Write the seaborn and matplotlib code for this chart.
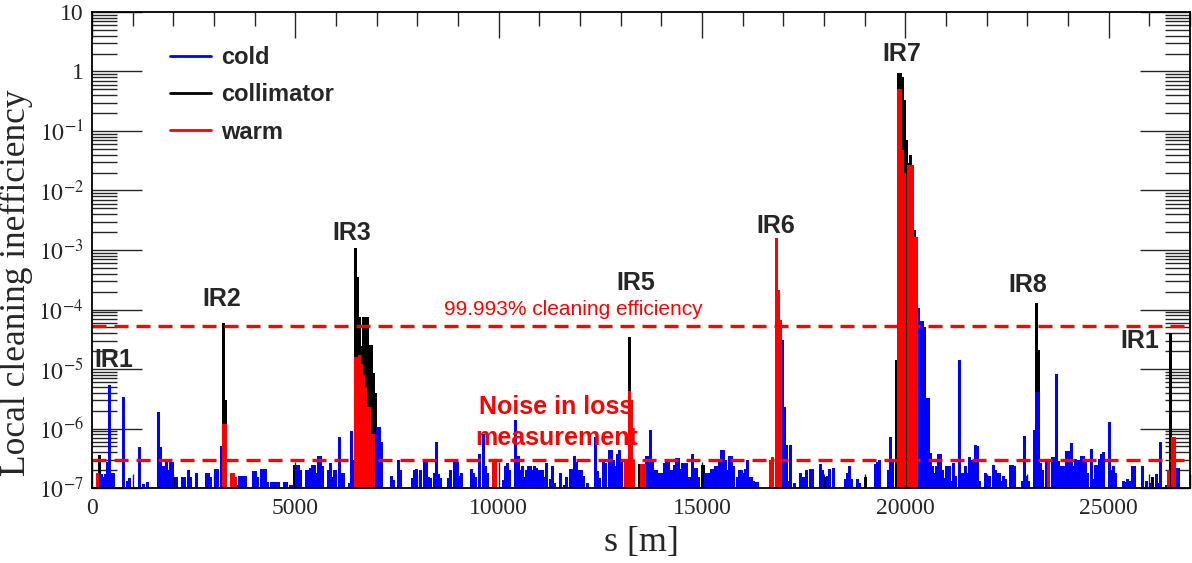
import numpy as np
import pandas as pd
import matplotlib
matplotlib.use("Agg")
import matplotlib.pyplot as plt
import seaborn as sns
from matplotlib.lines import Line2D
from matplotlib.ticker import LogLocator, NullFormatter, MultipleLocator

# ---------------- data (s [m], local cleaning inefficiency) ----------------
cold_s = [225, 275, 325, 375, 425, 475, 525, 775, 875, 925, 1175, 1275, 1375, 1625, 1675, 1725, 1775, 1825, 1875, 1925,
          1975, 2075, 2225, 2275, 2375, 2425, 2575, 2825, 2875, 2925, 3025, 3075, 3175, 3575, 3625, 3675, 3725, 3775,
          3975, 4025, 4075, 4175, 4225, 4275, 4325, 4425, 4475, 4525, 4575, 4725, 4775, 4875, 4925, 5025, 5075, 5125,
          5275, 5325, 5375, 5425, 5475, 5525, 5575, 5625, 5675, 5825, 5875, 5925, 5975, 6075, 6125, 6175, 6325, 6375,
          6425, 7025, 7075, 7125, 7375, 7425, 7525, 7575, 7875, 7925, 7975, 8075, 8175, 8225, 8275, 8325, 8425, 8475,
          8525, 8575, 8775, 8825, 8925, 8975, 9025, 9075, 9325, 9375, 9425, 9525, 9625, 9675, 9725, 10125, 10175,
          10225, 10275, 10425, 10475, 10525, 10575, 10625, 10675, 10725, 10775, 10825, 10875, 10925, 10975, 11025,
          11075, 11125, 11175, 11275, 11325, 11375, 11525, 11625, 11675, 11775, 11825, 11875, 11925, 11975, 12025,
          12075, 12175, 12375, 12425, 12475, 12575, 12625, 12725, 12775, 12825, 12875, 12925, 12975, 13025, 13625,
          13675, 13725, 13775, 13825, 13875, 13925, 13975, 14025, 14075, 14125, 14175, 14225, 14275, 14325, 14375,
          14425, 14475, 14525, 14575, 14625, 14675, 14725, 14775, 14825, 14875, 14925, 15075, 15125, 15175, 15225,
          15275, 15325, 15375, 15425, 15475, 15525, 15575, 15625, 15675, 15725, 15775, 15875, 15925, 15975, 16075,
          16125, 16175, 16225, 16275, 16325, 16375, 16975, 17025, 17075, 17125, 17175, 17275, 17425, 17475, 17525,
          17575, 17675, 17725, 17925, 17975, 18075, 18125, 18225, 18525, 18575, 18625, 18675, 18825, 18875, 19275,
          19325, 19375, 19575, 19625, 19675, 20325, 20375, 20425, 20475, 20525, 20575, 20625, 20675, 20725, 20775,
          20825, 20875, 20925, 20975, 21025, 21075, 21125, 21175, 21225, 21325, 21375, 21425, 21475, 21525, 21575,
          21625, 21675, 21725, 21775, 21825, 21975, 22075, 22175, 22225, 22275, 22325, 22375, 22425, 22475, 22575,
          22625, 22675, 22875, 22925, 22975, 23025, 23175, 23225, 23275, 23325, 23375, 23475, 23625, 23675, 23725,
          23775, 23825, 23875, 23925, 23975, 24025, 24075, 24125, 24175, 24225, 24275, 24325, 24375, 24425, 24475,
          24575, 24625, 24675, 24725, 24775, 24825, 24875, 25025, 25075, 25125, 25175, 25375, 25425, 25475, 25525,
          25575, 25625, 25825, 25925, 26025, 26175, 26225, 26275, 26425, 26475, 26675, 26725]
cold_v = [1.7e-7, 1.55e-7, 1.7e-7, 2.7e-7, 5.4e-6, 1.8e-7, 1.8e-7, 3.4e-6, 1.3e-7, 1.45e-7, 4.9e-7, 1.15e-7, 1.25e-7,
          1.9e-6, 4.9e-7, 2.3e-7, 2.3e-7, 2.7e-7, 2.0e-7, 2.7e-7, 2.7e-7, 1.55e-7, 1.55e-7, 1.55e-7, 2.0e-7, 1.55e-7,
          1.8e-7, 1.8e-7, 1.8e-7, 1.55e-7, 2.1e-7, 2.1e-7, 5.0e-7, 1.12e-7, 1.6e-7, 1.6e-7, 1.6e-7, 1.6e-7, 1.9e-7,
          1.9e-7, 1.55e-7, 2.1e-7, 2.1e-7, 2.1e-7, 1.25e-7, 1.25e-7, 1.25e-7, 1.25e-7, 1.25e-7, 1.25e-7, 1.25e-7,
          1.12e-7, 1.12e-7, 2.4e-7, 2.4e-7, 2.0e-7, 2.0e-7, 2.0e-7, 2.2e-7, 2.4e-7, 2.4e-7, 1.8e-7, 3.4e-7, 3.4e-7,
          2.3e-7, 2.0e-7, 2.6e-7, 1.55e-7, 2.0e-7, 7.3e-7, 1.8e-7, 1.8e-7, 1.2e-7, 9.0e-7, 3.0e-7, 1.05e-6, 1.05e-6,
          6.0e-7, 1.6e-7, 1.35e-7, 2.95e-7, 2.0e-7, 1.45e-7, 2.0e-7, 2.1e-7, 2.0e-7, 2.7e-7, 2.7e-7, 1.55e-7, 1.45e-7,
          1.8e-7, 6.0e-7, 1.75e-7, 1.45e-7, 1.45e-7, 2.0e-7, 2.95e-7, 2.7e-7, 1.6e-7, 1.8e-7, 2.1e-7, 1.8e-7, 1.55e-7,
          3.8e-7, 8.0e-7, 2.3e-7, 1.8e-7, 1.35e-7, 2.3e-7, 2.6e-7, 2.0e-7, 1.4e-6, 3.4e-7, 2.0e-7, 2.3e-7, 1.55e-7,
          2.0e-7, 2.3e-7, 2.3e-7, 2.0e-7, 2.3e-7, 2.2e-7, 2.0e-7, 2.0e-7, 2.0e-7, 1.55e-7, 2.6e-7, 1.4e-7, 2.3e-7,
          1.2e-7, 1.76e-7, 1.12e-7, 1.55e-7, 2.1e-7, 2.1e-7, 3.4e-7, 2.7e-7, 2.0e-7, 2.0e-7, 1.6e-7, 1.2e-7, 7.3e-7,
          1.9e-7, 1.45e-7, 2.7e-7, 2.6e-7, 4.4e-7, 4.4e-7, 2.95e-7, 2.3e-7, 3.8e-7, 4.4e-7, 2.7e-7, 3.4e-7, 3.5e-7,
          9.4e-7, 2.95e-7, 2.0e-7, 2.0e-7, 1.8e-7, 1.8e-7, 1.8e-7, 2.6e-7, 2.7e-7, 2.7e-7, 2.0e-7, 2.0e-7, 2.4e-7,
          3.2e-7, 3.2e-7, 2.1e-7, 2.6e-7, 2.6e-7, 2.6e-7, 1.55e-7, 1.55e-7, 3.8e-7, 2.2e-7, 2.2e-7, 1.55e-7, 1.8e-7,
          1.8e-7, 1.8e-7, 2.1e-7, 2.1e-7, 2.3e-7, 2.3e-7, 2.7e-7, 4.4e-7, 4.4e-7, 2.95e-7, 2.0e-7, 3.4e-7, 3.4e-7,
          2.3e-7, 1.55e-7, 2.0e-7, 2.0e-7, 2.1e-7, 2.95e-7, 1.55e-7, 1.55e-7, 1.3e-7, 1.25e-7, 1.25e-7, 3.1e-5,
          2.3e-6, 5.3e-7, 1.3e-7, 5.3e-7, 1.2e-7, 1.8e-7, 1.55e-7, 1.55e-7, 2.0e-7, 2.1e-7, 2.1e-7, 2.5e-7, 2.0e-7,
          1.6e-7, 2.1e-7, 2.2e-7, 1.4e-7, 1.8e-7, 2.3e-7, 1.4e-7, 1.4e-7, 1.23e-7, 2.5e-7, 2.7e-7, 2.95e-7, 2.0e-7,
          7.3e-7, 2.95e-7, 1.05e-4, 6.3e-5, 6.3e-5, 5.1e-5, 3.2e-6, 3.2e-6, 3.9e-7, 2.3e-7, 1.8e-7, 2.3e-7, 3.8e-7,
          3.8e-7, 2.0e-7, 1.5e-7, 2.3e-7, 2.3e-7, 1.3e-7, 2.6e-7, 1.6e-7, 1.4e-5, 1.8e-7, 1.8e-7, 2.3e-7, 1.8e-7,
          3.3e-7, 2.95e-7, 2.95e-7, 5.2e-7, 5.0e-7, 1.3e-7, 1.8e-7, 1.6e-7, 2.4e-7, 2.0e-7, 1.8e-7, 1.8e-7, 1.3e-7,
          1.6e-7, 1.4e-7, 2.4e-7, 2.4e-7, 2.3e-7, 1.3e-7, 7.5e-7, 1.6e-7, 1.3e-7, 9.4e-7, 4.1e-6, 4.1e-6, 2.6e-7,
          2.0e-7, 3.1e-7, 3.3e-7, 3.3e-7, 8.3e-6, 2.8e-7, 2.3e-7, 2.3e-7, 2.3e-7, 4.2e-7, 4.2e-7, 5.7e-7, 2.3e-7,
          3.1e-7, 3.0e-7, 3.0e-7, 3.5e-7, 3.5e-7, 3.1e-7, 1.8e-7, 4.6e-7, 1.4e-7, 2.4e-7, 2.4e-7, 3.1e-7, 3.8e-7,
          4.0e-7, 1.3e-6, 2.0e-7, 2.3e-7, 1.8e-7, 1.3e-7, 1.25e-7, 1.4e-7, 1.3e-7, 2.3e-7, 2.3e-7, 2.3e-7, 1.3e-7,
          1.2e-7, 1.75e-7, 1.2e-7, 6.0e-7, 1.12e-7, 1.1e-7, 2.2e-7, 2.2e-7]

coll_s = [175, 2025, 3225, 3275, 4975, 6475, 6525, 6575, 6625, 6675, 6725, 6775, 6825, 6875, 6925, 6975, 13225,
          13475, 15025, 16025, 18025, 19025, 19775, 19825, 19875, 19925, 19975, 20025, 20075, 20125, 20175, 20225,
          22025, 23225, 23275, 26075, 26525]
coll_v = [3.6e-7, 1.55e-7, 5.9e-5, 3.0e-6, 2.4e-7, 1.07e-3, 3.5e-4, 7.6e-5, 2.4e-5, 7.5e-5, 7.5e-5, 7.5e-5, 2.5e-5,
          2.5e-5, 8.5e-6, 4.0e-6, 3.4e-5, 2.5e-7, 2.4e-7, 1.76e-7, 1.55e-7, 1.55e-7, 1.4e-5, 0.95, 0.95, 0.81, 0.33,
          0.071, 0.029, 0.04, 0.015, 2.2e-3, 1.55e-7, 1.3e-4, 2.1e-5, 1.55e-7, 4.0e-5]

warm_s = [125, 3225, 3275, 3425, 3475, 3525, 6475, 6525, 6575, 6625, 6675, 6725, 6775, 6825, 6875, 6925, 9875, 9925,
          13125, 13175, 13225, 13275, 13325, 13525, 13575, 16675, 16725, 16825, 16875, 16925, 19825, 19875, 19925,
          19975, 20075, 20125, 20175, 20225, 20275, 23525, 26475, 26575, 26625]
warm_v = [1.8e-7, 1.2e-6, 1.2e-6, 1.8e-7, 1.8e-7, 1.55e-7, 1.6e-5, 1.6e-5, 1.7e-5, 1.2e-5, 8.0e-6, 5.0e-6, 2.3e-6,
          2.3e-6, 8.0e-7, 8.0e-7, 2.9e-7, 2.9e-7, 3.0e-7, 3.0e-7, 4.2e-6, 3.0e-6, 3.0e-7, 2.5e-7, 2.5e-7, 3.0e-7,
          3.3e-7, 1.58e-3, 2.1e-4, 6.7e-5, 0.5, 0.5, 0.048, 0.0195, 0.027, 0.027, 0.027, 1.66e-3, 1.66e-3, 3.0e-7,
          2.0e-7, 7.3e-7, 7.3e-7]

series_names = ["cold", "collimator", "warm"]
series_colors = ["#0000ff", "#000000", "#ff0000"]
cleaning_level = 5.2e-5
noise_level = 3.0e-7
ir_labels = ["IR1", "IR2", "IR3", "IR5", "IR6", "IR7", "IR8", "IR1"]
ir_pos = [(0.020, 0.269), (0.118, 0.397), (0.237, 0.536), (0.495, 0.431),
          (0.623, 0.550), (0.738, 0.912), (0.852, 0.426), (0.954, 0.309)]

# ---------------- figure ----------------
sns.set_style("ticks")
plt.rcParams["font.family"] = ["Liberation Serif", "DejaVu Serif"]
plt.rcParams["mathtext.fontset"] = "stix"

fig = plt.figure(figsize=(11.92, 5.63), dpi=100)
ax = fig.add_axes([0.0772, 0.1332, 0.9211, 0.8455])

BIN = 50


def draw(s, v, color):
    df = pd.DataFrame({"s": s, "v": v}).groupby("s", as_index=False)["v"].max()
    sns.histplot(data=df, x="s", weights="v", binwidth=BIN, binrange=(0, 27000),
                 color=color, alpha=1, linewidth=0, element="bars", fill=True,
                 shrink=1.5, ax=ax)


draw(coll_s, coll_v, series_colors[1])
draw(cold_s, cold_v, series_colors[0])
draw(warm_s, warm_v, series_colors[2])

ax.set_yscale("log")
ax.set_ylim(1e-7, 10)
ax.set_xlim(0, 27000)

for lvl in (cleaning_level, noise_level):
    ax.axhline(lvl, color="#ff0000", lw=2.4, dashes=(4.2, 2.4), zorder=4)

# ticks (ROOT style, inside, mirrored)
ax.set_axisbelow(True)
ax.set_xticks(np.arange(0, 25001, 5000))
ax.set_xticklabels([str(v) for v in range(0, 25001, 5000)])
ax.xaxis.set_minor_locator(MultipleLocator(1000))
ax.tick_params(axis="x", which="major", direction="in", length=19, width=1.0,
               top=True, bottom=True, labelsize=17, pad=7)
ax.tick_params(axis="x", which="minor", direction="in", length=10, width=1.0,
               top=True, bottom=True)
yt = [1e-7, 1e-6, 1e-5, 1e-4, 1e-3, 1e-2, 1e-1, 1, 10]
ytl = ["$10^{-7}$", "$10^{-6}$", "$10^{-5}$", "$10^{-4}$", "$10^{-3}$",
       "$10^{-2}$", "$10^{-1}$", "1", "10"]
ax.set_yticks(yt)
ax.set_yticklabels(ytl)
ax.yaxis.set_minor_locator(LogLocator(base=10, subs=np.arange(2, 10), numticks=30))
ax.yaxis.set_minor_formatter(NullFormatter())
ax.tick_params(axis="y", which="major", direction="in", length=36, width=1.0,
               left=True, right=True, labelsize=17, pad=6)
ax.tick_params(axis="y", which="minor", direction="in", length=18, width=1.0,
               left=True, right=True)
for sp in ax.spines.values():
    sp.set_linewidth(1.3)
    sp.set_color("black")
    sp.set_zorder(5)

ax.set_xlabel("s [m]", fontsize=26)
ax.set_ylabel("Local cleaning inefficiency", fontsize=25.5)
ax.xaxis.set_label_coords(0.5, -0.08)
ax.yaxis.set_label_coords(-0.054, 0.431)

# legend
handles = [Line2D([0], [0], color=c, lw=2) for c in series_colors]
ax.legend(handles, series_names, loc="upper left", bbox_to_anchor=(0.071, 0.928),
          frameon=False, borderpad=0, borderaxespad=0, handlelength=1.75,
          handletextpad=0.4, labelspacing=0.6,
          prop=dict(family="Liberation Sans", weight="bold", size=17))

# annotations
for lab, (fx, fy) in zip(ir_labels, ir_pos):
    ax.text(fx, fy, lab, transform=ax.transAxes, ha="center", va="center",
            fontsize=18, fontweight="bold", family="Liberation Sans", zorder=6)
ax.text(0.438, 0.374, "99.993% cleaning efficiency", transform=ax.transAxes,
        ha="center", va="center", fontsize=15, color="#ff0000", family="Liberation Sans", zorder=6)
ax.text(0.423, 0.137, "Noise in loss\nmeasurement", transform=ax.transAxes,
        ha="center", va="center", fontsize=18, fontweight="bold", color="#ff0000",
        family="Liberation Sans", linespacing=1.35, zorder=6)

fig.savefig("out.png", dpi=100)
